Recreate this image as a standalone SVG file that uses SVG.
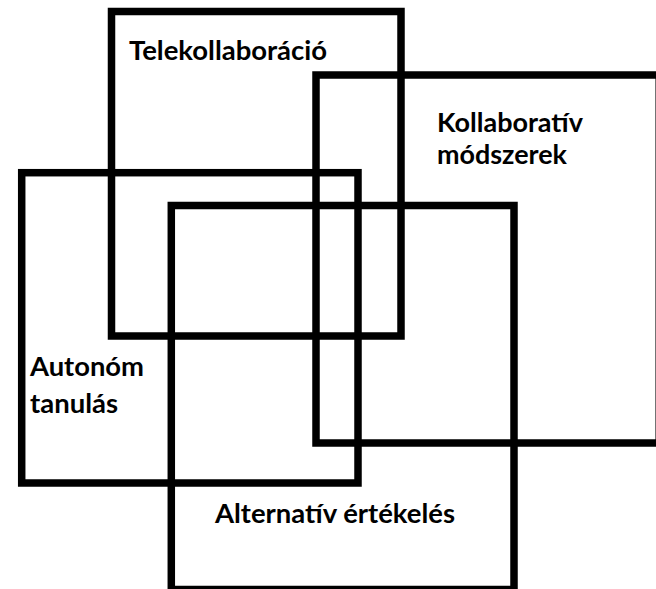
<svg xmlns="http://www.w3.org/2000/svg" width="656" height="589" viewBox="0 0 656 589">
<style>
.box{fill:none;stroke:#000;stroke-width:7.5}
.lbl{font-family:Lato,"Open Sans","Liberation Sans",sans-serif;font-weight:bold;font-size:26px;fill:#000}
</style>
<rect width="656" height="589" fill="#fff"/>
<g id="telekollaboracio">
<rect class="box" x="111.5" y="11.5" width="289.5" height="324.5"/>
<text class="lbl" x="129" y="60" textLength="198" lengthAdjust="spacingAndGlyphs">Telekollaboráció</text>
</g>
<g id="kollaborativ">
<rect class="box" x="316" y="75" width="343.2" height="368"/>
<text class="lbl" x="437" y="132" textLength="146" lengthAdjust="spacingAndGlyphs">Kollaboratív</text>
<text class="lbl" x="437" y="164" textLength="130" lengthAdjust="spacingAndGlyphs">módszerek</text>
</g>
<g id="autonom">
<rect class="box" x="21.7" y="172.7" width="336.3" height="310.3"/>
<text class="lbl" x="30" y="376" textLength="114" lengthAdjust="spacingAndGlyphs">Autonóm</text>
<text class="lbl" x="30" y="413" textLength="88" lengthAdjust="spacingAndGlyphs">tanulás</text>
</g>
<g id="alternativ">
<rect class="box" x="171.3" y="205.5" width="342.7" height="384"/>
<text class="lbl" x="215" y="523" textLength="240" lengthAdjust="spacingAndGlyphs">Alternatív értékelés</text>
</g>
<g id="connectors"></g>
</svg>
